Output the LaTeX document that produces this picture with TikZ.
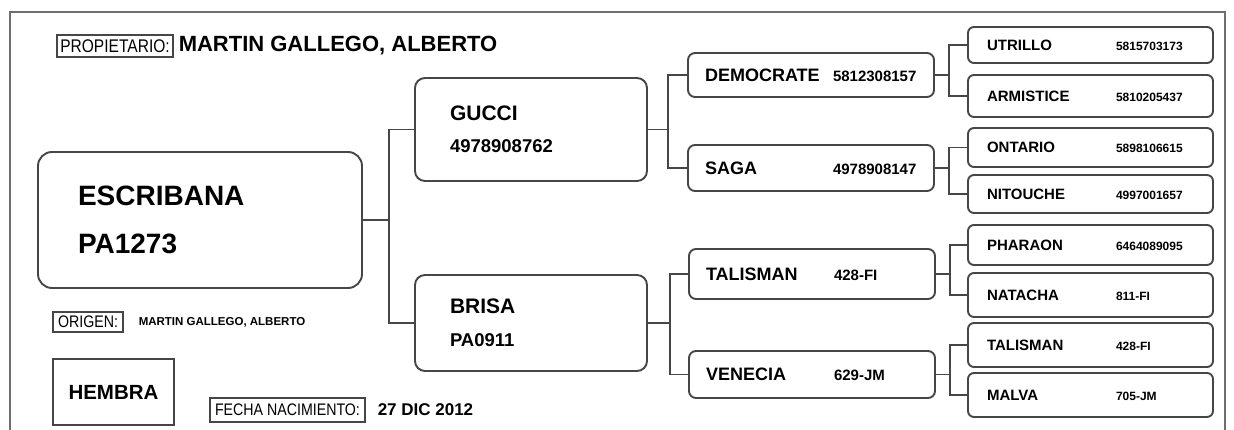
\documentclass[tikz,border=0pt]{standalone}
\usepackage{fontspec}
\setmainfont{Liberation Sans}
\newfontfamily\tagfont{Liberation Sans}[FakeStretch=0.85]
\usetikzlibrary{positioning}
\definecolor{pedline}{RGB}{70,70,70}
\definecolor{pedframe}{RGB}{110,110,110}
\newcommand{\midrow}[2]{\makebox[128pt][l]{#1}{\fontsize{15}{18}\selectfont #2}}
\newcommand{\outrow}[2]{\makebox[129pt][l]{#1}{\fontsize{12}{14}\selectfont #2}}
\tikzset{
  pedborder/.style={draw=pedline, line width=1.9pt},
  rootbox/.style={pedborder, rectangle, rounded corners=14pt, text width=244pt, inner xsep=40pt,
                  minimum height=136pt, align=left, font=\bfseries\fontsize{28}{34}\selectfont},
  parentbox/.style={pedborder, rectangle, rounded corners=10pt, text width=162pt, inner xsep=35pt,
                    minimum height=#1, align=left, font=\bfseries\fontsize{21}{25}\selectfont},
  parentbox/.default=100pt,
  midbox/.style={pedborder, rectangle, rounded corners=7pt, text width=212pt, inner xsep=17pt,
                 minimum height=#1, align=left, font=\bfseries\fontsize{18}{21}\selectfont},
  midbox/.default=46pt,
  outbox/.style={pedborder, rectangle, rounded corners=6pt, text width=207pt, inner xsep=19pt,
                 minimum height=#1, align=left, font=\bfseries\fontsize{15}{18}\selectfont},
  outbox/.default=40pt,
  link/.style={pedborder, line join=miter},
  tag/.style={rectangle, draw=pedline, line width=1.1pt, inner sep=1pt, font=\tagfont\fontsize{#1}{#1}\selectfont},
  tag/.default=16.7pt,
  frame/.style={draw=pedframe, line width=2.4pt},
}

\begin{document}
\begin{tikzpicture}[x=1pt, y=-1pt]
  \clip (0,0) rectangle (1234,430);
  \draw[frame] (10,440) -- (10,12) -- (1225,12) -- (1225,440);

  \node[tag=18.3pt, minimum width=116pt, minimum height=22pt] (prop) at (115,46) {PROPIETARIO:};
  \node[right=5pt of prop, inner sep=0pt, font=\bfseries\fontsize{22}{26}\selectfont] (owner) {MARTIN GALLEGO, ALBERTO};

  \node[rootbox] (escribana) at (200,220) {ESCRIBANA\\[14pt]PA1273};

  \node[parentbox=103pt] (gucci) at (531,129.5) {GUCCI\\[7pt]{\fontsize{18.5}{22}\selectfont 4978908762}};
  \node[parentbox=96pt] (brisa) at (531,323) {BRISA\\[8pt]{\fontsize{18.5}{22}\selectfont PA0911}};

  \node[midbox=44pt] (democrate) at (811,75) {\midrow{DEMOCRATE}{5812308157}};
  \node[midbox] (saga) at (811,168) {\midrow{SAGA}{4978908147}};
  \node[midbox=50pt] (talisman) at (812,274) {\midrow{TALISMAN}{428-FI}};
  \node[midbox=47pt] (venecia) at (812,374.5) {\midrow{VENECIA}{629-JM}};

  \node[outbox=36pt] (utrillo) at (1090.5,45) {\outrow{UTRILLO}{5815703173}};
  \node[outbox=42pt] (armistice) at (1090.5,96) {\outrow{ARMISTICE}{5810205437}};
  \node[outbox=39pt] (ontario) at (1090.5,147.5) {\outrow{ONTARIO}{5898106615}};
  \node[outbox=38pt] (nitouche) at (1090.5,194) {\outrow{NITOUCHE}{4997001657}};
  \node[outbox] (pharaon) at (1090.5,245) {\outrow{PHARAON}{6464089095}};
  \node[outbox=44pt] (natacha) at (1090.5,295) {\outrow{NATACHA}{811-FI}};
  \node[outbox=44pt] (talismanb) at (1090.5,345) {\outrow{TALISMAN}{428-FI}};
  \node[outbox=44pt] (malva) at (1090.5,395) {\outrow{MALVA}{705-JM}};

  \draw[link] (escribana.east) -- ++(26,0) coordinate (j1);
  \draw[link] (gucci.west) -| (j1) |- (brisa.west);
  \draw[link] (gucci.east) -- ++(20,0) coordinate (j2);
  \draw[link] (democrate.west) -| (j2) |- (saga.west);
  \draw[link] (brisa.east) -- ++(22,0) coordinate (j3);
  \draw[link] (talisman.west) -| (j3) |- (venecia.west);
  \draw[link] (democrate.east) -- ++(14,0) coordinate (j4);
  \draw[link] (utrillo.west) -| (j4) |- (armistice.west);
  \draw[link] (saga.east) -- ++(14,0) coordinate (j5);
  \draw[link] (ontario.west) -| (j5) |- (nitouche.west);
  \draw[link] (talisman.east) -- ++(14,0) coordinate (j6);
  \draw[link] (pharaon.west) -| (j6) |- (natacha.west);
  \draw[link] (venecia.east) -- ++(14,0) coordinate (j7);
  \draw[link] (talismanb.west) -| (j7) |- (malva.west);

  \node[tag, minimum width=70pt, minimum height=20pt] (origen) at (88,322) {ORIGEN:};
  \node[right=15pt of origen, inner sep=0pt, font=\bfseries\fontsize{11.5}{14}\selectfont] (breeder) {MARTIN GALLEGO, ALBERTO};
  \node[pedborder, rectangle, minimum width=121pt, minimum height=66pt,
        font=\bfseries\fontsize{20.5}{24}\selectfont] (sexo) at (113.5,392) {HEMBRA};
  \node[tag, minimum width=155pt, minimum height=24pt] (fecha) at (287.5,410) {FECHA NACIMIENTO:};
  \node[right=12pt of fecha, inner sep=0pt, font=\bfseries\fontsize{17}{20}\selectfont] (birth) {27 DIC 2012};
\end{tikzpicture}
\end{document}
